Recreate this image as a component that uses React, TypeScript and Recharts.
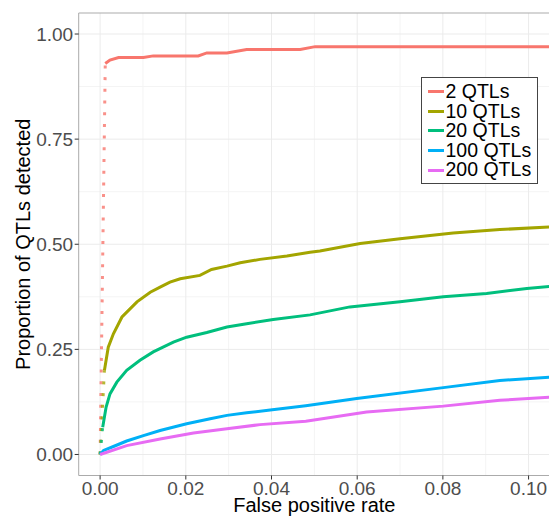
import React from 'react';
import { LineChart, Line, XAxis, YAxis, CartesianGrid, ReferenceArea, Label } from 'recharts';

const seriesNames = ['2 QTLs', '10 QTLs', '20 QTLs', '100 QTLs', '200 QTLs'];
const seriesColors = ['#F8766D', '#A3A500', '#00BF7D', '#00B0F6', '#E76BF3'];

const fpr2 = [0, 0.0012, 0.0023, 0.0043, 0.0101, 0.0124, 0.0229, 0.0249, 0.0296, 0.0342, 0.0467, 0.0502, 0.105];
const tpr2 = [0, 0.93, 0.938, 0.944, 0.944, 0.948, 0.948, 0.955, 0.955, 0.963, 0.963, 0.97, 0.97];

const fpr10 = [0, 0.001, 0.0019, 0.0031, 0.0051, 0.0086, 0.0117, 0.014, 0.0163, 0.0187, 0.0233, 0.026, 0.0296, 0.0327, 0.0373, 0.0436, 0.049, 0.0513, 0.0607, 0.07, 0.0824, 0.0933, 0.105];
const tpr10 = [0, 0.2, 0.255, 0.287, 0.327, 0.363, 0.386, 0.398, 0.41, 0.418, 0.426, 0.44, 0.448, 0.456, 0.464, 0.472, 0.481, 0.484, 0.502, 0.513, 0.527, 0.535, 0.541];

const fpr20 = [0, 0.0006, 0.0014, 0.0023, 0.0039, 0.0062, 0.0093, 0.0124, 0.0171, 0.0202, 0.0249, 0.0296, 0.0342, 0.0404, 0.049, 0.0583, 0.07, 0.0801, 0.0902, 0.0996, 0.105];
const tpr20 = [0, 0.065, 0.113, 0.144, 0.172, 0.2, 0.224, 0.244, 0.267, 0.279, 0.29, 0.303, 0.311, 0.321, 0.332, 0.351, 0.363, 0.375, 0.383, 0.395, 0.4];

const fpr100 = [0, 0.0008, 0.0031, 0.0062, 0.0101, 0.014, 0.0202, 0.0257, 0.0296, 0.0342, 0.0397, 0.048, 0.0599, 0.0801, 0.0933, 0.105];
const tpr100 = [0, 0.0095, 0.019, 0.032, 0.045, 0.057, 0.073, 0.085, 0.093, 0.099, 0.106, 0.116, 0.133, 0.159, 0.176, 0.184];

const fpr200 = [0, 0.0062, 0.014, 0.0218, 0.0296, 0.0373, 0.048, 0.0622, 0.0801, 0.0933, 0.105];
const tpr200 = [0, 0.021, 0.037, 0.051, 0.061, 0.071, 0.079, 0.101, 0.115, 0.129, 0.136];

const seriesX = [fpr2, fpr10, fpr20, fpr100, fpr200];
const seriesY = [tpr2, tpr10, tpr20, tpr100, tpr200];
const dottedLead = [true, true, true, false, false];

const xTicks = [0, 0.02, 0.04, 0.06, 0.08, 0.1];
const xMinor = [0.01, 0.03, 0.05, 0.07, 0.09];
const yTicks = [0, 0.25, 0.5, 0.75, 1];
const yMinor = [0.125, 0.375, 0.625, 0.875];
const xDomain = [-0.005, 0.105];
const yDomain = [-0.05, 1.05];

const xTitle = 'False positive rate';
const yTitle = 'Proportion of QTLs detected';

const FONT = '"Liberation Sans", Arial, Helvetica, sans-serif';

const series = seriesNames.map((name, i) => {
  const pts = seriesX[i].map((x, j) => ({ x, y: seriesY[i][j] }));
  return {
    name,
    color: seriesColors[i],
    solid: dottedLead[i] ? pts.slice(1) : pts,
    dotted: dottedLead[i] ? pts.slice(0, 2) : null,
  };
});

const YTitle = (props: any) => {
  const vb = props.viewBox || {};
  const cy = (vb.y || 0) + (vb.height || 0) / 2;
  const cx = 29.5;
  return (
    <text
      x={cx}
      y={cy}
      transform={`rotate(-90 ${cx} ${cy})`}
      textAnchor="middle"
      fontSize={20}
      fontFamily={FONT}
      fill="#000"
    >
      {yTitle}
    </text>
  );
};

export default function App() {
  return (
    <div style={{ position: 'absolute', left: 0, top: 0, width: 549, height: 517, overflow: 'hidden', background: '#fff' }}>
      <LineChart width={560} height={517} margin={{ top: 13, right: 10, bottom: 0, left: 0 }}>
        <CartesianGrid stroke="#F4F4F4" strokeWidth={1} horizontalValues={yMinor} verticalValues={xMinor} />
        <CartesianGrid stroke="#EBEBEB" strokeWidth={1} horizontalValues={yTicks} verticalValues={xTicks} />
        <XAxis
          type="number"
          dataKey="x"
          domain={xDomain}
          ticks={xTicks}
          allowDataOverflow
          height={41.5}
          axisLine={false}
          tickLine={{ stroke: '#333' }}
          tickSize={4}
          tickMargin={2}
          tickFormatter={(v: number) => v.toFixed(2)}
          tick={{ fontSize: 19, fill: '#4D4D4D', fontFamily: FONT }}
        >
          <Label value={xTitle} position="insideBottom" offset={5} fontSize={20} fill="#000" fontFamily={FONT} />
        </XAxis>
        <YAxis
          type="number"
          dataKey="y"
          domain={yDomain}
          ticks={yTicks}
          allowDataOverflow
          width={78.7}
          axisLine={false}
          tickLine={{ stroke: '#333' }}
          tickSize={4}
          tickMargin={1.5}
          tickFormatter={(v: number) => v.toFixed(2)}
          tick={{ fontSize: 19, fill: '#4D4D4D', fontFamily: FONT }}
        >
          <Label content={<YTitle />} />
        </YAxis>
        <ReferenceArea
          x1={xDomain[0]}
          x2={xDomain[1]}
          y1={yDomain[0]}
          y2={yDomain[1]}
          fill="none"
          stroke="#ABABAB"
          strokeWidth={1}
          ifOverflow="visible"
        />
        {series.map((s) =>
          s.dotted ? (
            <Line
              key={s.name + '-lead'}
              data={s.dotted}
              dataKey="y"
              type="linear"
              stroke={s.color}
              strokeOpacity={0.8}
              strokeWidth={3}
              strokeDasharray="3 8.7"
              dot={false}
              activeDot={false}
              isAnimationActive={false}
              legendType="none"
            />
          ) : null
        )}
        {series.map((s) => (
          <Line
            key={s.name}
            name={s.name}
            data={s.solid}
            dataKey="y"
            type="linear"
            stroke={s.color}
            strokeWidth={3}
            dot={false}
            activeDot={false}
            isAnimationActive={false}
          />
        ))}
      </LineChart>
      <div
        style={{
          position: 'absolute',
          left: 421,
          top: 77,
          width: 115,
          height: 99,
          border: '1px solid #444',
          background: '#fff',
          fontFamily: FONT,
          fontSize: 19.5,
          color: '#000',
          boxSizing: 'content-box',
          paddingTop: 4,
          paddingBottom: 2,
        }}
      >
        {series.map((s) => (
          <div key={s.name} style={{ display: 'flex', alignItems: 'center', height: 19.6, lineHeight: '19.6px', whiteSpace: 'nowrap' }}>
            <span style={{ display: 'inline-block', width: 16, height: 3, background: s.color, marginLeft: 6, marginRight: 1.5 }} />
            <span>{s.name}</span>
          </div>
        ))}
      </div>
    </div>
  );
}
